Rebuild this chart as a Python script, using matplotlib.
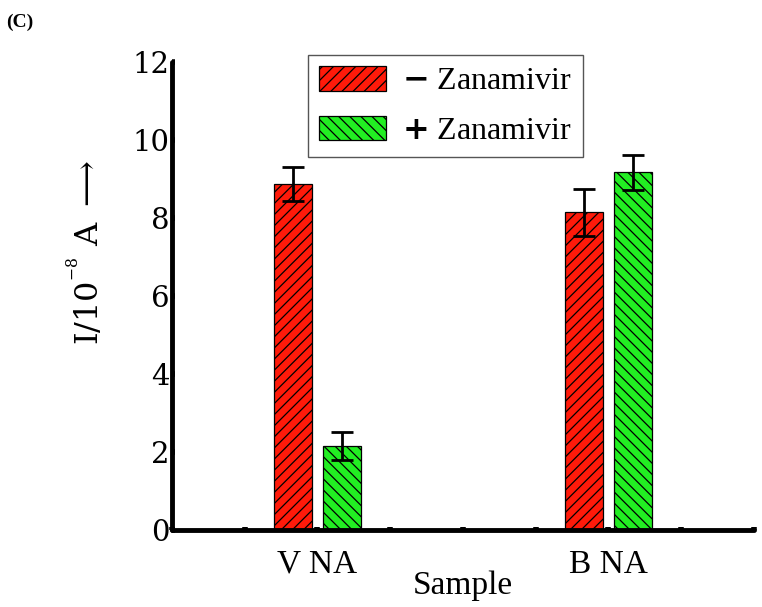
import numpy as np
import matplotlib.pyplot as plt
from matplotlib.patches import Patch

plt.rcParams['mathtext.fontset'] = 'dejavuserif'
plt.rcParams['hatch.linewidth'] = 0.9

# data
samples = ['V NA', 'B NA']
sample_pos = [2, 6]
minus_vals = [8.87, 8.15]
minus_err = [0.43, 0.60]
plus_vals = [2.15, 9.17]
plus_err = [0.36, 0.45]
legend_labels = [r'$\mathbf{-}$ Zanamivir', r'$\mathbf{+}$ Zanamivir']

fig = plt.figure(figsize=(7.62, 6.07), dpi=100)
ax = fig.add_axes([0.2257, 0.1269, 0.7638, 0.771])

red = '#ff1a0a'
green = '#22ee22'
w = 0.52
x = np.array(sample_pos, dtype=float)
ax.bar(x - 0.335, minus_vals, w, color=red, edgecolor='black', linewidth=0.9,
       hatch='///', zorder=2)
ax.bar(x + 0.335, plus_vals, w, color=green, edgecolor='black', linewidth=0.9,
       hatch='\\\\\\', zorder=2)
ax.errorbar(x - 0.335, minus_vals, yerr=minus_err, fmt='none', ecolor='black',
            elinewidth=2, capsize=8, capthick=2, zorder=3)
ax.errorbar(x + 0.335, plus_vals, yerr=plus_err, fmt='none', ecolor='black',
            elinewidth=2, capsize=8, capthick=2, zorder=3)

ax.set_xlim(0, 8)
ax.set_ylim(0, 12)
ax.spines['top'].set_visible(False)
ax.spines['right'].set_visible(False)
for s in ['left', 'bottom']:
    ax.spines[s].set_linewidth(3.5)
    ax.spines[s].set_capstyle('round')

ticks = list(range(0, 9))
labels = ['' for t in ticks]
for p, s in zip(sample_pos, samples):
    labels[p] = s
ax.set_xticks(ticks)
ax.set_xticklabels(labels, fontsize=24, fontfamily='Liberation Serif')
ax.set_yticks(range(0, 13, 2))
ax.set_yticklabels([str(v) for v in range(0, 13, 2)], fontsize=21, fontfamily='DejaVu Serif')
ax.tick_params(axis='x', direction='in', length=2, width=4, pad=14)
ax.tick_params(axis='y', direction='in', length=2, width=4, pad=2)

ax.set_xlabel('Sample', fontsize=24, fontfamily='Liberation Serif', labelpad=-7)
ax.set_ylabel(r'I/10$^{^{-8}}$ A $\longrightarrow$', fontsize=23, fontfamily='DejaVu Serif')
ax.yaxis.set_label_coords(-0.115, 0.594)

# legend
handles = [Patch(facecolor=red, edgecolor='black', hatch='///', linewidth=0.9),
           Patch(facecolor=green, edgecolor='black', hatch='\\\\\\', linewidth=0.9)]
leg = ax.legend(handles, legend_labels, loc='upper left',
                bbox_to_anchor=(0.234, 1.015), borderaxespad=0, fancybox=False,
                prop={'family': 'Liberation Serif', 'size': 23},
                handlelength=2.1, handleheight=0.8, labelspacing=0.6, handletextpad=0.5,
                borderpad=0.35, edgecolor='#555555', framealpha=1)
leg.get_frame().set_linewidth(1.0)

fig.text(0.008, 0.955, '(C)', fontsize=14, fontweight='bold', fontfamily='Liberation Serif')

fig.savefig('out.png', dpi=100)
